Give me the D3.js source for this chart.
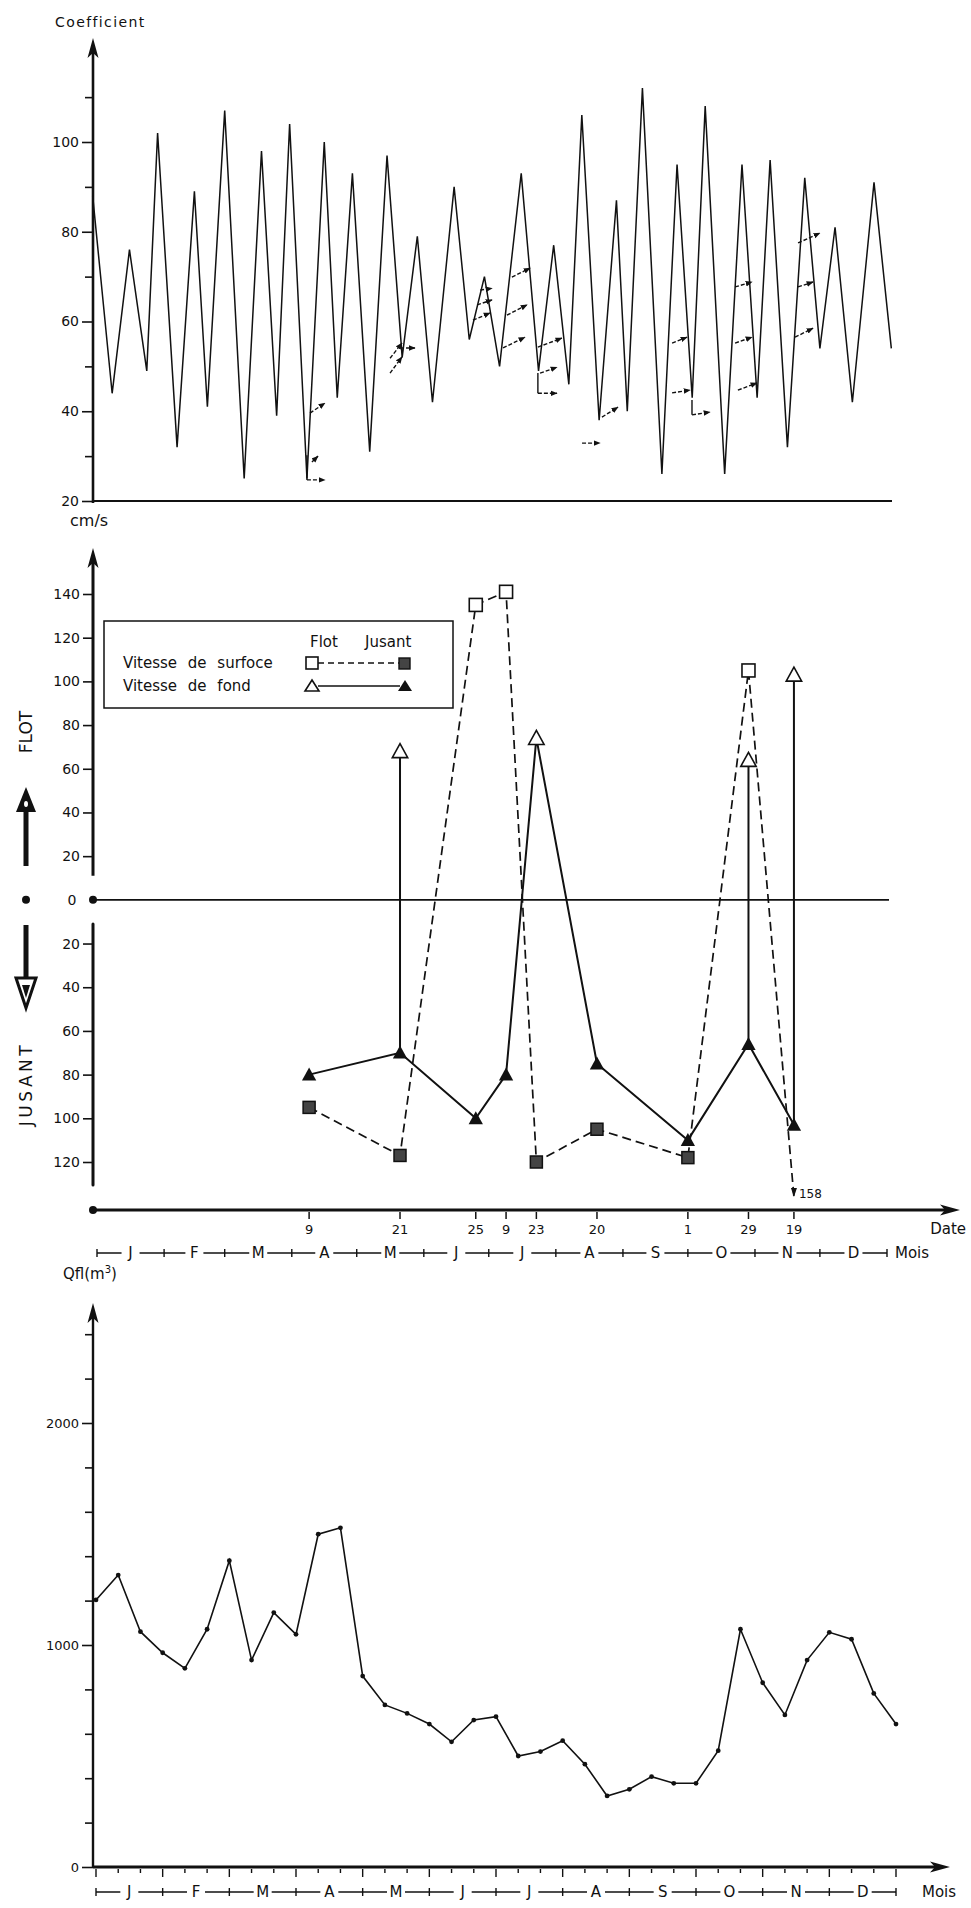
<!DOCTYPE html>
<html><head><meta charset="utf-8">
<script src="https://cdn.jsdelivr.net/npm/d3@7"></script>
<style>
body{margin:0;background:#fff}
svg{display:block}
text{font-family:"DejaVu Sans",sans-serif;fill:#111}
</style>
</head><body>
<svg id="c" width="971" height="1908"></svg>
<script>
// ---------------- DATA ----------------
// Top panel: tidal coefficient (day of year, value)
const coefDays = [-2,7,15,23,28,37,45,51,59,68,76,83,89,97,105,111,118,126,134,141,148,155,165,172,179,186,196,204,211,218,224,232,240,245,252,261,268,275,281,290,298,305,311,319,327,334,341,349,359,367];
const coefValues = [88,44,76,49,102,32,89,41,107,25,98,39,104,25,100,43,93,31,97,52,79,42,90,56,70,50,93,49,77,46,106,38,87,40,112,26,95,43,108,26,95,43,96,32,92,54,81,42,91,54];
const coefTicks = [20,40,60,80,100];
const coefMinorTicks = [30,50,70,90,110];
// small measurement arrows on the coefficient curve: [day0, v0, day1, v1, arrowhead]
const tideMarks = [
 [98.4,39.6,105.3,41.8,1],[99.3,28.7,102.1,30.0,1],[97.0,30.2,97.0,24.7,0],[97.0,24.7,105.3,24.7,1],
 [135.4,48.5,140.9,52.1,1],[135.4,51.8,140.9,55.2,1],[140.0,54.1,146.9,54.1,1],
 [173.7,60.3,181.6,61.9,1],[175.6,63.7,182.5,64.8,1],[177.0,67.0,182.5,67.4,1],
 [187.6,54.1,197.7,56.5,1],[189.4,61.4,198.7,63.7,1],[191.7,69.9,200.1,71.9,1],
 [203.7,54.3,214.8,56.3,1],[204.7,48.5,212.5,49.8,1],[203.7,48.5,203.7,44.0,0],[203.7,44.0,212.5,44.0,1],
 [224.1,32.9,232.4,32.9,1],[233.3,38.7,240.7,40.9,1],
 [265.7,55.2,272.6,56.5,1],[265.7,44.1,274.0,44.7,1],[274.9,42.5,274.9,39.2,0],[274.9,39.2,283.2,39.8,1],
 [294.8,67.7,302.6,68.8,1],[294.8,55.2,302.6,56.5,1],[296.1,44.7,304.9,46.3,1],
 [323.9,77.5,334.0,79.7,1],[323.9,67.7,330.8,68.8,1],[322.5,56.5,330.8,58.5,1]
];

// Middle panel: current speeds (cm/s)
const dateLabels = ["9","21","25","9","23","20","1","29","19"];
const dateDays   = [98,140,175,189,203,231,273,301,322];
const surfFlot   = [null,null,135,141,null,null,null,105,null];
const surfJusant = [95,117,null,null,120,105,118,null,158];
const fondFlot   = [null,68,null,null,74,null,null,64,103];
const fondJusant = [80,70,100,80,null,75,110,66,103];
const speedTicks = [140,120,100,80,60,40,20,-20,-40,-60,-80,-100,-120];
const surfClip = 136;

// Months
const months = ["J","F","M","A","M","J","J","A","S","O","N","D"];
const monthStartDays = [0,31,59,90,120,151,181,212,243,273,304,334,365];

// Bottom panel: fresh-water discharge per decade (m3)
const qflValues = [1203,1315,1060,965,895,1071,1380,932,1146,1048,1499,1528,860,730,692,644,564,662,677,500,520,569,463,320,350,407,377,377,524,1071,830,685,932,1057,1026,782,644];
const qflTicks = [0,1000,2000];
const qflMinorTicks = [200,400,600,800,1200,1400,1600,1800,2200,2400];

// ---------------- DRAW ----------------
const svg = d3.select("#c");
svg.append("rect").attr("width",971).attr("height",1908).attr("fill","#fff");
const AX = 93;

const xDay = d3.scaleLinear().domain([0,365]).range([97,887]);
const yCoef = d3.scaleLinear().domain([20,100]).range([501,142]);
const ySpd = d3.scaleLinear().domain([-120,140]).range([1162,594]);
const xDec = d3.scaleLinear().domain([0,36]).range([96,896]);
const yQfl = d3.scaleLinear().domain([0,2000]).range([1867,1423]);

const defs = svg.append("defs");
defs.append("marker").attr("id","ah").attr("viewBox","0 0 10 10").attr("refX",9).attr("refY",5)
  .attr("markerWidth",5).attr("markerHeight",5).attr("orient","auto")
  .append("path").attr("d","M0,1 L10,5 L0,9 Z").attr("fill","#111");

function arrowUp(x,y){ svg.append("path").attr("d",`M${x},${y} L${x-5.5},${y+20} L${x},${y+15} L${x+5.5},${y+20} Z`).attr("fill","#111"); }
function arrowRight(x,y){ svg.append("path").attr("d",`M${x},${y} L${x-20},${y-5.5} L${x-15},${y} L${x-20},${y+5.5} Z`).attr("fill","#111"); }
function styleAxis(g, fs){
  g.select(".domain").remove();
  g.selectAll("line").attr("stroke","#111").attr("stroke-width",1.6);
  g.selectAll("text").attr("font-size",fs).attr("fill","#111").style("font-family","DejaVu Sans, sans-serif");
}

// ===== TOP PANEL =====
svg.append("text").attr("x",55).attr("y",27).attr("font-size",14).attr("letter-spacing",1.4).text("Coefficient");
svg.append("line").attr("x1",AX).attr("x2",AX).attr("y1",503).attr("y2",50).attr("stroke","#111").attr("stroke-width",2.6);
arrowUp(AX,38);
const gC = svg.append("g").attr("transform",`translate(${AX},0)`)
  .call(d3.axisLeft(yCoef).tickValues(coefTicks).tickSize(11).tickPadding(3));
styleAxis(gC,14);
const gCm = svg.append("g").attr("transform",`translate(${AX},0)`)
  .call(d3.axisLeft(yCoef).tickValues(coefMinorTicks).tickSize(8).tickFormat(""));
styleAxis(gCm,14);
svg.append("line").attr("x1",AX).attr("x2",892).attr("y1",yCoef(20)).attr("y2",yCoef(20)).attr("stroke","#111").attr("stroke-width",2);
svg.append("path").datum(coefDays.map((d,i)=>[d,coefValues[i]]))
  .attr("d",d3.line().x(p=>xDay(p[0])).y(p=>yCoef(p[1])))
  .attr("fill","none").attr("stroke","#111").attr("stroke-width",1.5).attr("stroke-linejoin","miter");
svg.append("g").selectAll("line").data(tideMarks).join("line")
  .attr("x1",m=>xDay(m[0])).attr("y1",m=>yCoef(m[1])).attr("x2",m=>xDay(m[2])).attr("y2",m=>yCoef(m[3]))
  .attr("stroke","#111").attr("stroke-width",1.4)
  .attr("stroke-dasharray",m=>m[4]?"4,2":null)
  .attr("marker-end",m=>m[4]?"url(#ah)":null);

// ===== MIDDLE PANEL =====
svg.append("text").attr("x",70).attr("y",526).attr("font-size",16).text("cm/s");
svg.append("line").attr("x1",AX).attr("x2",AX).attr("y1",560).attr("y2",ySpd(11)).attr("stroke","#111").attr("stroke-width",3);
svg.append("line").attr("x1",AX).attr("x2",AX).attr("y1",ySpd(-11)).attr("y2",1185).attr("stroke","#111").attr("stroke-width",3).attr("stroke-linecap","round");
arrowUp(AX,548);
const gS = svg.append("g").attr("transform",`translate(${AX},0)`)
  .call(d3.axisLeft(ySpd).tickValues(speedTicks).tickSize(10).tickPadding(3).tickFormat(d=>Math.abs(d)));
styleAxis(gS,14);
// zero line
svg.append("line").attr("x1",AX).attr("x2",889).attr("y1",ySpd(0)).attr("y2",ySpd(0)).attr("stroke","#111").attr("stroke-width",1.6);
svg.append("circle").attr("cx",AX).attr("cy",ySpd(0)).attr("r",4).attr("fill","#111");
svg.append("circle").attr("cx",26).attr("cy",ySpd(0)).attr("r",4).attr("fill","#111");
svg.append("text").attr("x",72).attr("y",ySpd(0)).attr("dy","0.36em").attr("text-anchor","middle").attr("font-size",14).text("0");
// FLOT / JUSANT
svg.append("text").attr("transform",`translate(32,732) rotate(-90)`).attr("text-anchor","middle").attr("font-size",17).text("FLOT");
svg.append("text").attr("transform",`translate(32,1084) rotate(-90)`).attr("text-anchor","middle").attr("font-size",17).attr("letter-spacing",3.5).text("JUSANT");
svg.append("rect").attr("x",23.5).attr("y",806).attr("width",5).attr("height",60).attr("fill","#111");
svg.append("path").attr("d","M26,787 L16,812 L36,812 Z").attr("fill","#111");
svg.append("ellipse").attr("cx",26).attr("cy",804).attr("rx",2).attr("ry",3).attr("fill","#fff");
svg.append("rect").attr("x",23.5).attr("y",925).attr("width",5).attr("height",52).attr("fill","#111");
svg.append("path").attr("d","M26,1008 L16,978 L36,978 Z").attr("fill","#fff").attr("stroke","#111").attr("stroke-width",3);
svg.append("path").attr("d","M26,998 L22,985 L30,985 Z").attr("fill","#111");

// legend
const lg = svg.append("g");
lg.append("rect").attr("x",104).attr("y",621).attr("width",349).attr("height",87).attr("fill","#fff").attr("stroke","#111").attr("stroke-width",1.5);
lg.append("text").attr("x",310).attr("y",647).attr("font-size",15).text("Flot");
lg.append("text").attr("x",365).attr("y",647).attr("font-size",15).text("Jusant");
lg.append("text").attr("x",123).attr("y",668).attr("font-size",15).attr("word-spacing",6).text("Vitesse de surfoce");
lg.append("text").attr("x",123).attr("y",691).attr("font-size",15).attr("word-spacing",6).text("Vitesse de fond");
lg.append("line").attr("x1",318).attr("x2",400).attr("y1",663).attr("y2",663).attr("stroke","#111").attr("stroke-width",1.6).attr("stroke-dasharray","6,4");
lg.append("rect").attr("x",306).attr("y",657).attr("width",12).attr("height",12).attr("fill","#fff").attr("stroke","#111").attr("stroke-width",1.6);
lg.append("rect").attr("x",399).attr("y",658).attr("width",11).attr("height",11).attr("fill","#444").attr("stroke","#111").attr("stroke-width",1.4);
lg.append("line").attr("x1",318).attr("x2",400).attr("y1",686).attr("y2",686).attr("stroke","#111").attr("stroke-width",1.6);
lg.append("path").attr("d","M312,680 L319,691 L305,691 Z").attr("fill","#fff").attr("stroke","#111").attr("stroke-width",1.6);
lg.append("path").attr("d","M405,680 L412,691 L398,691 Z").attr("fill","#111");

// series: bottom (fond) solid
const fondPts = dateDays.map((d,i)=>[d, fondJusant[i]!=null ? -fondJusant[i] : fondFlot[i]]);
svg.append("path").datum(fondPts).attr("d",d3.line().x(p=>xDay(p[0])).y(p=>ySpd(p[1])))
  .attr("fill","none").attr("stroke","#111").attr("stroke-width",2);
dateDays.forEach((d,i)=>{
  if(fondFlot[i]!=null && fondJusant[i]!=null){
    svg.append("line").attr("x1",xDay(d)).attr("x2",xDay(d)).attr("y1",ySpd(-fondJusant[i])).attr("y2",ySpd(fondFlot[i]))
      .attr("stroke","#111").attr("stroke-width",2);
  }
});
// series: surface dashed
const surfPts = dateDays.map((d,i)=>[d, surfFlot[i]!=null ? surfFlot[i] : -Math.min(surfJusant[i],surfClip)]);
svg.append("path").datum(surfPts).attr("d",d3.line().x(p=>xDay(p[0])).y(p=>ySpd(p[1])))
  .attr("fill","none").attr("stroke","#111").attr("stroke-width",1.7).attr("stroke-dasharray","9,5");
// off-scale value arrow + label
dateDays.forEach((d,i)=>{
  if(surfJusant[i]!=null && surfJusant[i]>surfClip){
    const x=xDay(d), y=ySpd(-surfClip);
    svg.append("path").attr("d",`M${x},${y} L${x-3},${y-9} L${x+3},${y-9} Z`).attr("fill","#111");
    svg.append("text").attr("x",x+5).attr("y",y+1).attr("font-size",12).text(String(surfJusant[i]));
  }
});
// markers
const tri = (x,y,s)=>`M${x},${y-s*0.55} L${x+s*0.55},${y+s*0.45} L${x-s*0.55},${y+s*0.45} Z`;
dateDays.forEach((d,i)=>{
  const x=xDay(d);
  if(fondJusant[i]!=null) svg.append("path").attr("d",tri(x,ySpd(-fondJusant[i]),13)).attr("fill","#111");
  if(fondFlot[i]!=null) svg.append("path").attr("d",tri(x,ySpd(fondFlot[i]),14)).attr("fill","#fff").attr("stroke","#111").attr("stroke-width",1.6);
  if(surfFlot[i]!=null) svg.append("rect").attr("x",x-6.5).attr("y",ySpd(surfFlot[i])-6.5).attr("width",13).attr("height",13).attr("fill","#fff").attr("stroke","#111").attr("stroke-width",1.6);
  if(surfJusant[i]!=null && surfJusant[i]<=surfClip) svg.append("rect").attr("x",x-6).attr("y",ySpd(-surfJusant[i])-6).attr("width",12).attr("height",12).attr("fill","#444").attr("stroke","#111").attr("stroke-width",1.5);
});

// date axis
const yDate = 1210;
svg.append("line").attr("x1",AX).attr("x2",945).attr("y1",yDate).attr("y2",yDate).attr("stroke","#111").attr("stroke-width",3);
svg.append("circle").attr("cx",AX).attr("cy",yDate).attr("r",4).attr("fill","#111");
arrowRight(960,yDate);
svg.append("g").selectAll("line").data(dateDays).join("line")
  .attr("x1",d=>xDay(d)).attr("x2",d=>xDay(d)).attr("y1",yDate+2).attr("y2",yDate+9).attr("stroke","#111").attr("stroke-width",1.5);
svg.append("g").selectAll("text").data(dateDays).join("text")
  .attr("x",d=>xDay(d)).attr("y",yDate+24).attr("text-anchor","middle").attr("font-size",13)
  .text((d,i)=>dateLabels[i]);
svg.append("text").attr("x",966).attr("y",yDate+24).attr("text-anchor","end").attr("font-size",15).text("Date");

function monthRow(xs, y, fs){
  const x0 = xs[0], x1 = xs[xs.length-1];
  svg.append("line").attr("x1",x0).attr("x2",x1).attr("y1",y).attr("y2",y).attr("stroke","#111").attr("stroke-width",1.4);
  svg.append("g").selectAll("line").data(xs).join("line").attr("x1",d=>d).attr("x2",d=>d).attr("y1",y-4).attr("y2",y+4).attr("stroke","#111").attr("stroke-width",1.4);
  months.forEach((m,i)=>{
    const cx=(xs[i]+xs[i+1])/2;
    svg.append("rect").attr("x",cx-9).attr("y",y-9).attr("width",18).attr("height",18).attr("fill","#fff");
    svg.append("text").attr("x",cx).attr("y",y).attr("dy","0.36em").attr("text-anchor","middle").attr("font-size",fs).text(m);
  });
}
monthRow(monthStartDays.map(d=>xDay(d)), 1253, 15);
svg.append("text").attr("x",895).attr("y",1253).attr("dy","0.36em").attr("font-size",15).text("Mois");

// ===== BOTTOM PANEL =====
svg.append("text").attr("x",63).attr("y",1279).attr("font-size",15).html("Qfl(m<tspan font-size='10' dy='-6'>3</tspan><tspan dy='6'>)</tspan>");
svg.append("line").attr("x1",AX).attr("x2",AX).attr("y1",1868).attr("y2",1315).attr("stroke","#111").attr("stroke-width",2.4);
arrowUp(AX,1303);
const gQ = svg.append("g").attr("transform",`translate(${AX},0)`)
  .call(d3.axisLeft(yQfl).tickValues(qflTicks).tickSize(11).tickPadding(3).tickFormat(d3.format("d")));
styleAxis(gQ,13);
const gQm = svg.append("g").attr("transform",`translate(${AX},0)`)
  .call(d3.axisLeft(yQfl).tickValues(qflMinorTicks).tickSize(8).tickFormat(""));
styleAxis(gQm,13);
svg.append("line").attr("x1",AX).attr("x2",935).attr("y1",yQfl(0)).attr("y2",yQfl(0)).attr("stroke","#111").attr("stroke-width",3);
arrowRight(950,yQfl(0));
svg.append("g").selectAll("line").data(d3.range(0,37)).join("line")
  .attr("x1",i=>xDec(i)).attr("x2",i=>xDec(i)).attr("y1",yQfl(0)+2).attr("y2",i=>yQfl(0)+(i%3===0?10:6))
  .attr("stroke","#111").attr("stroke-width",1.4);
svg.append("path").datum(qflValues).attr("d",d3.line().x((v,i)=>xDec(i)).y(v=>yQfl(v)))
  .attr("fill","none").attr("stroke","#111").attr("stroke-width",1.6);
svg.append("g").selectAll("circle").data(qflValues).join("circle")
  .attr("cx",(v,i)=>xDec(i)).attr("cy",v=>yQfl(v)).attr("r",2.4).attr("fill","#111");
monthRow(d3.range(0,37,3).map(i=>xDec(i)), 1892, 15);
svg.append("text").attr("x",922).attr("y",1892).attr("dy","0.36em").attr("font-size",15).text("Mois");
</script>
</body></html>
